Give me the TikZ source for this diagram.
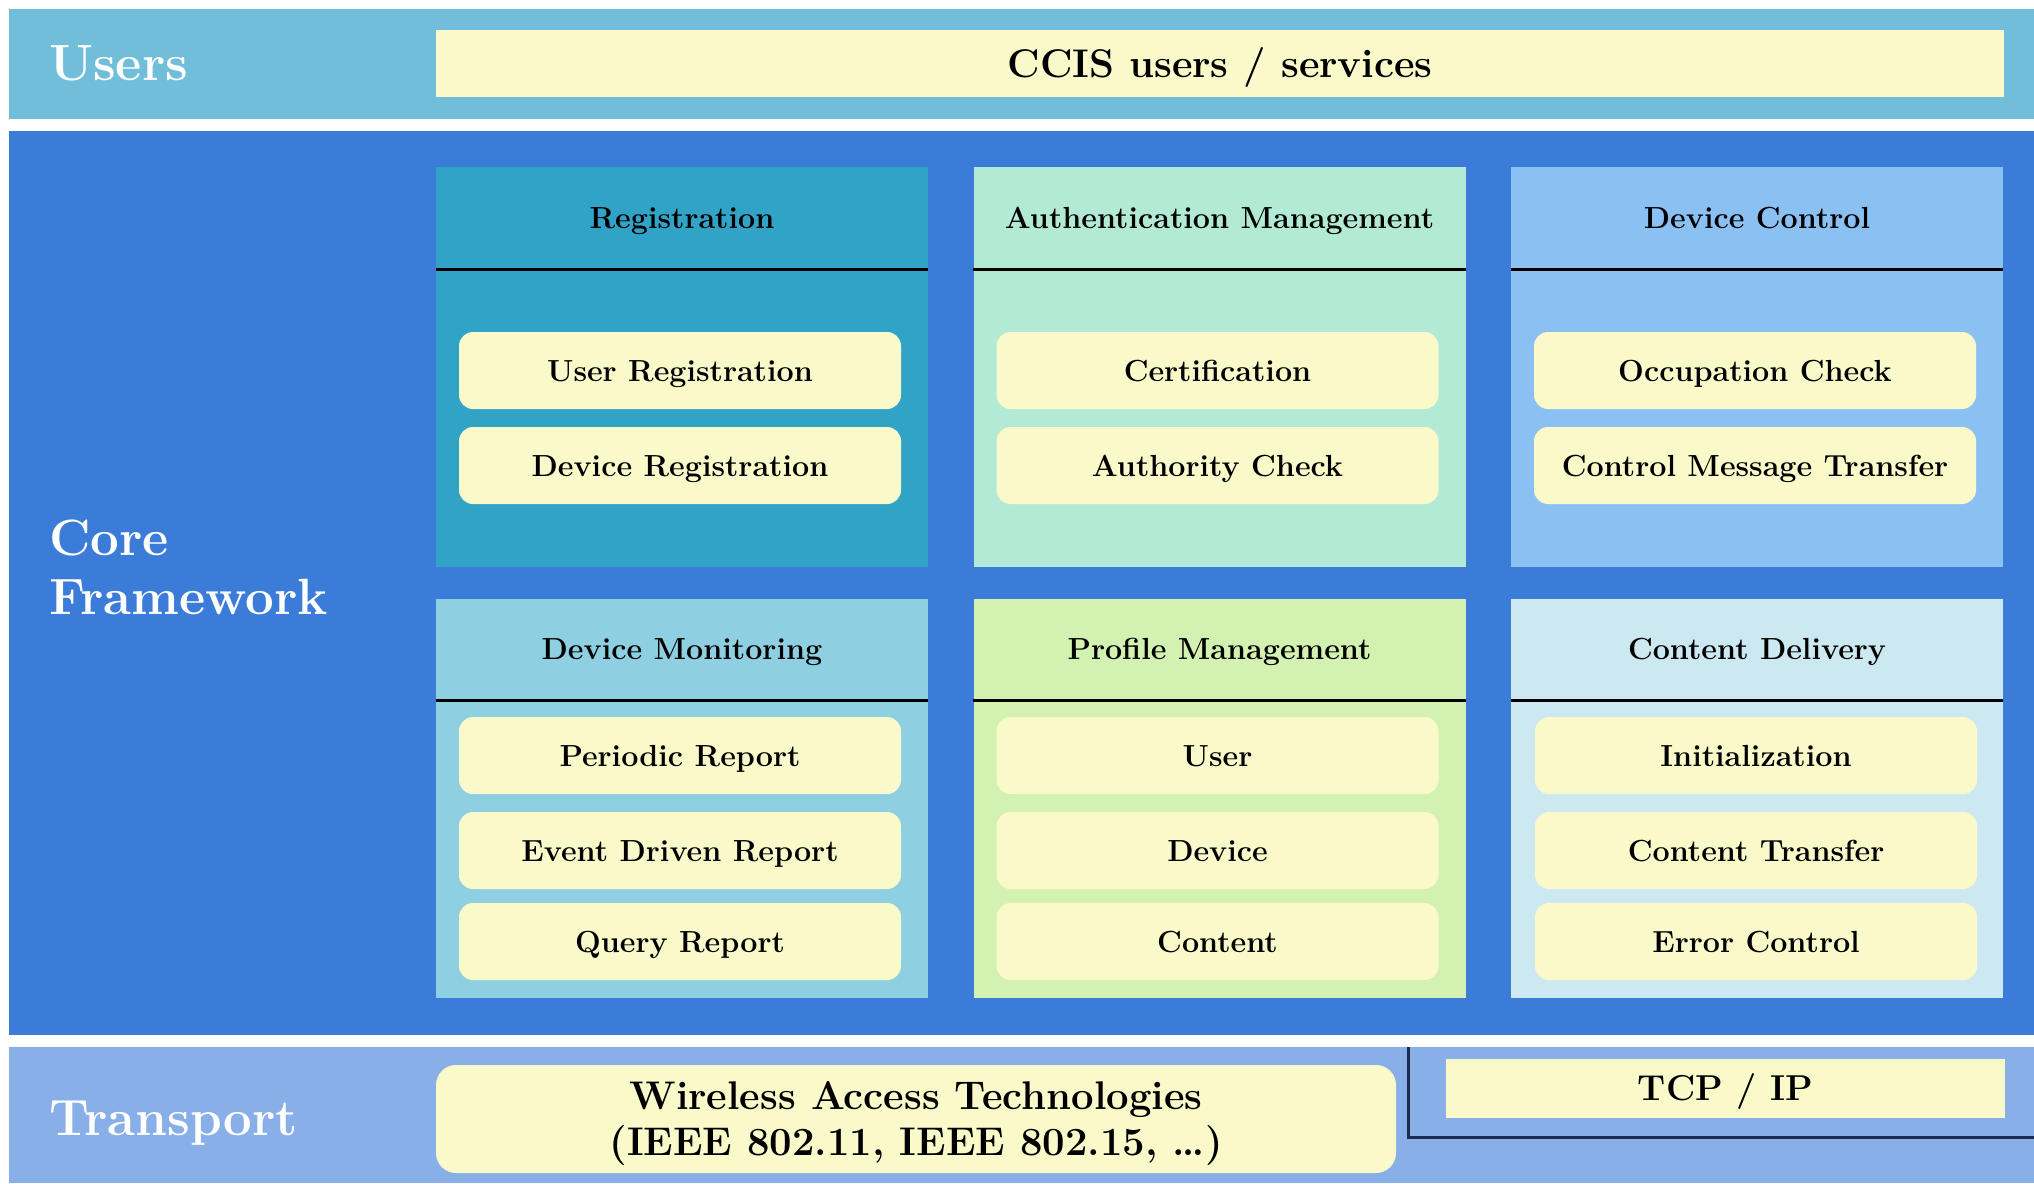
\documentclass[tikz,border=0pt]{standalone}
\usepackage{fontspec}
\definecolor{usersband}{HTML}{70BED9}
\definecolor{coreband}{HTML}{3B7CD9}
\definecolor{transband}{HTML}{88AFE8}
\definecolor{paleyellow}{HTML}{FAF9C9}
\definecolor{regc}{HTML}{30A3C6}
\definecolor{authc}{HTML}{B2EAD5}
\definecolor{devc}{HTML}{8BC1F2}
\definecolor{monc}{HTML}{8ECFE2}
\definecolor{profc}{HTML}{D3F2B1}
\definecolor{contc}{HTML}{CCE8F1}
\definecolor{navyline}{HTML}{1B2A4E}
\begin{document}
\begin{tikzpicture}[x=1pt,y=-1pt,
  band/.style={draw=none,inner sep=0pt,minimum width=2025pt},
  module/.style={draw=none,inner sep=0pt,minimum width=492pt,minimum height=400pt},
  subbox/.style={fill=paleyellow,rounded corners=14pt,inner sep=0pt,minimum width=442pt,minimum height=77pt,
     text height=21pt,text depth=0pt,font=\fontsize{30.5}{35}\selectfont\bfseries},
  hdr/.style={inner sep=0pt,text height=21pt,text depth=0pt,font=\fontsize{30.5}{35}\selectfont\bfseries},
  sidelbl/.style={anchor=west,inner sep=0pt,text=white,align=left,font=\fontsize{51}{59}\selectfont\bfseries},
  bigtext/.style={font=\fontsize{40}{46}\selectfont\bfseries,align=center},
  hline/.style={line width=3pt,black}
]
\useasboundingbox (0,0) rectangle (2034,1183);
\fill[white] (0,0) rectangle (2034,1183);

% bands
\node[band,fill=usersband,minimum height=110pt] (usersband) at (1021.5,64) {};
\node[band,fill=coreband,minimum height=904pt] (coreband) at (1021.5,583) {};
\node[band,fill=transband,minimum height=136pt] (transband) at (1021.5,1115) {};

% side labels
\node[sidelbl] (userslbl) at (49,63.5) {Users};
\node[sidelbl] (corelbl) at (49,567) {Core\\Framework};
\node[sidelbl] (translbl) at (49,1123) {Transport};

% CCIS
\node[fill=paleyellow,inner sep=0pt,minimum width=1568pt,minimum height=67pt,
  font=\fontsize{40}{46}\selectfont\bfseries,text height=27.5pt,text depth=0pt] (ccis) at (1220,63.5) {CCIS users / services};

% modules row 1
\node[module,fill=regc] (reg) at (682,367) {};
\node[module,fill=authc] (auth) at (1219.5,367) {};
\node[module,fill=devc] (dev) at (1757,367) {};
% modules row 2
\node[module,fill=monc,minimum height=399pt] (mon) at (682,798.5) {};
\node[module,fill=profc,minimum height=399pt] (prof) at (1219.5,798.5) {};
\node[module,fill=contc,minimum height=399pt] (cont) at (1757,798.5) {};

% header lines
\draw[hline] (reg.north west |- 0,269) -- (reg.north east |- 0,269);
\draw[hline] (auth.north west |- 0,269) -- (auth.north east |- 0,269);
\draw[hline] (dev.north west |- 0,269) -- (dev.north east |- 0,269);
\draw[hline] (mon.north west |- 0,700) -- (mon.north east |- 0,700);
\draw[hline] (prof.north west |- 0,700) -- (prof.north east |- 0,700);
\draw[hline] (cont.north west |- 0,700) -- (cont.north east |- 0,700);

% headers
\node[hdr] (regh) at (682,218) {Registration};
\node[hdr] (authh) at (1219.5,218) {Authentication Management};
\node[hdr] (devh) at (1757,218) {Device Control};
\node[hdr] (monh) at (682,649) {Device Monitoring};
\node[hdr] (profh) at (1219.5,649) {Profile Management};
\node[hdr] (conth) at (1757,649) {Content Delivery};

% sub boxes row 1
\node[subbox] (ureg) at (680,370.5) {User Registration};
\node[subbox] (dreg) at (680,465.5) {Device Registration};
\node[subbox] (cert) at (1217.5,370.5) {Certification};
\node[subbox] (authc1) at (1217.5,465.5) {Authority Check};
\node[subbox] (occ) at (1755,370.5) {Occupation Check};
\node[subbox] (cmt) at (1755,465.5) {Control Message Transfer};

% sub boxes row 2
\node[subbox] (per) at (680,755.5) {Periodic Report};
\node[subbox] (evt) at (680,850.5) {Event Driven Report};
\node[subbox] (qry) at (680,941.5) {Query Report};
\node[subbox] (puser) at (1217.5,755.5) {User};
\node[subbox] (pdev) at (1217.5,850.5) {Device};
\node[subbox] (pcont) at (1217.5,941.5) {Content};
\node[subbox] (init) at (1756,755.5) {Initialization};
\node[subbox] (ctr) at (1756,850.5) {Content Transfer};
\node[subbox] (err) at (1756,941.5) {Error Control};

% transport
\node[fill=paleyellow,rounded corners=20pt,inner sep=0pt,minimum width=960pt,minimum height=108pt] (wire) at (916,1119) {};
\node[bigtext,inner sep=0pt] (wiretxt) at (916,1124)
  {Wireless Access Technologies\\(IEEE 802.11, IEEE 802.15, \ldots)};
\node[fill=paleyellow,inner sep=0pt,minimum width=559pt,minimum height=59pt,
  font=\fontsize{36}{42}\selectfont\bfseries,text height=24.7pt,text depth=0pt] (tcp) at (1725.5,1088.5) {TCP / IP};
\coordinate (ltop) at (1408,1047);
\coordinate (lcorner) at (1408,1137);
\coordinate (lend) at (2034,1137);
\draw[line width=3pt,navyline] (ltop) -- (lcorner) -- (lend);
\end{tikzpicture}
\end{document}
